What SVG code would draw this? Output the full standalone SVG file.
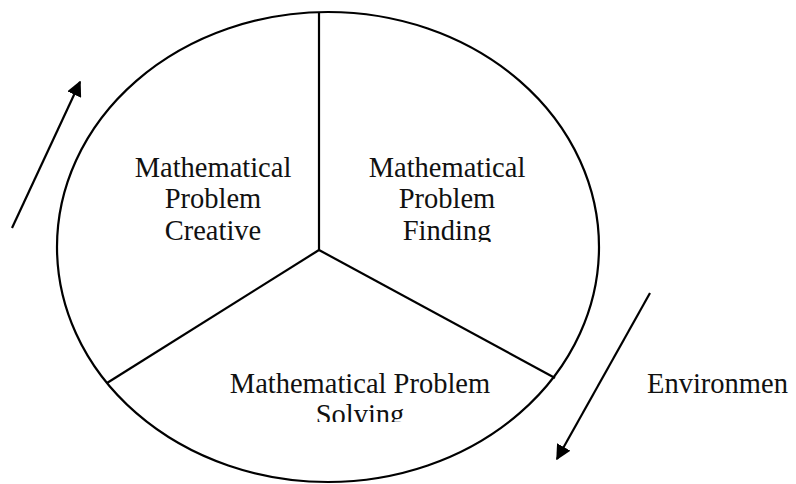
<svg xmlns="http://www.w3.org/2000/svg" width="796" height="484" viewBox="0 0 796 484">
<style>
.ln{fill:none;stroke:#000;stroke-width:2.2}
.t{font-family:"Liberation Serif","Times New Roman",serif;font-size:28.5px;fill:#111;text-anchor:middle}
</style>
<defs>
<marker id="ah2" viewBox="0 0 10 10" refX="9" refY="5" markerWidth="7" markerHeight="7" orient="auto">
<path d="M0,0 L10,5 L0,10 z" fill="#000"/>
</marker>
<clipPath id="c1"><rect x="0" y="0" width="796" height="242"/></clipPath>
<clipPath id="c2"><rect x="0" y="0" width="796" height="422"/></clipPath>
</defs>
<rect width="796" height="484" fill="#fff"/>
<g id="circle">
<ellipse class="ln" cx="328" cy="247" rx="271" ry="235"/>
</g>
<g id="connectors">
<line class="ln" x1="319" y1="12" x2="319" y2="250"/>
<line class="ln" x1="319" y1="250" x2="107" y2="383"/>
<line class="ln" x1="319" y1="250" x2="555" y2="378"/>
<line class="ln" x1="12" y1="228" x2="80" y2="82" marker-end="url(#ah2)"/>
<line class="ln" x1="650" y1="293" x2="557" y2="459" marker-end="url(#ah2)"/>
</g>
<g id="creative" clip-path="url(#c1)">
<text class="t" x="213" y="177">Mathematical</text>
<text class="t" x="213" y="208">Problem</text>
<text class="t" x="213" y="240">Creative</text>
</g>
<g id="finding" clip-path="url(#c1)">
<text class="t" x="447" y="177">Mathematical</text>
<text class="t" x="447" y="208">Problem</text>
<text class="t" x="447" y="240">Finding</text>
</g>
<g id="solving" clip-path="url(#c2)">
<text class="t" x="360" y="393">Mathematical Problem</text>
<text class="t" x="360" y="424">Solving</text>
</g>
<g id="environment">
<text class="t" x="647" y="393" style="text-anchor:start">Environmen</text>
</g>
</svg>
